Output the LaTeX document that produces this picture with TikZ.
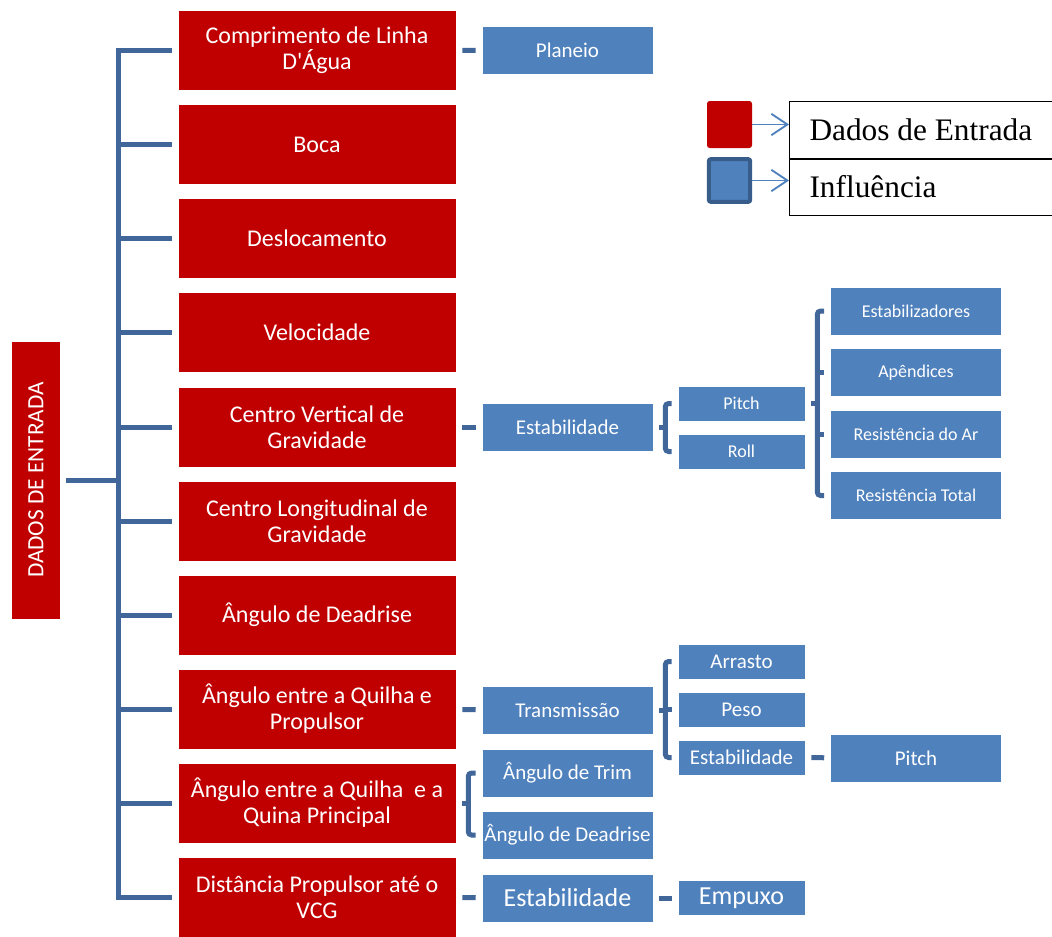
\documentclass[tikz,border=0pt]{standalone}
\usepackage{fontspec}
\setmainfont{Carlito}[Ligatures=TeXOff]
\newfontfamily\legendfont{Liberation Serif}
\usepackage{tikz}
\usetikzlibrary{arrows.meta, calc}
\definecolor{mainRed}{HTML}{C00000}
\definecolor{boxBlue}{HTML}{4F81BD}
\definecolor{lineBlue}{HTML}{41679A}
\definecolor{darkBlue}{HTML}{385D8A}
\newcommand{\DrawBracket}[3]{
    \coordinate (brk) at ($(#1.east)+(12,0)$);
    \draw[bracketline] ($(#2.west)+(-6,0)$) -| (brk) |- ($(#3.west)+(-6,0)$);
    \draw[bracketline] ($(#1.east)+(6,0)$) -- (brk);
}
\begin{document}
\begin{tikzpicture}[x=0.75pt, y=-0.75pt,
    redbox/.style={fill=mainRed, draw=white, line width=0.4pt, text=white, align=center,
        minimum width=208.5pt, minimum height=60pt, inner sep=1pt,
        font=\fontsize{18}{19.5}\selectfont},
    bluebox/.style={fill=boxBlue, draw=white, line width=0.4pt, text=white, align=center, inner sep=1pt},
    widebox/.style={bluebox, minimum width=128.25pt, minimum height=36pt},
    narrowbox/.style={bluebox, minimum width=95.25pt, minimum height=26.25pt},
    fsmall/.style={font=\fontsize{13.5}{15}\selectfont},
    fmed/.style={font=\fontsize{15.75}{18}\selectfont},
    fbig/.style={font=\fontsize{19.5}{22}\selectfont},
    trunk/.style={draw=lineBlue, line width=3.75pt},
    link/.style={trunk, shorten <=4.5pt, shorten >=4.5pt},
    bracketline/.style={trunk, rounded corners=2.5pt},
    legbox/.style={draw=black, line width=0.8pt, anchor=north west, minimum width=204pt,
        inner xsep=15pt, font=\legendfont\fontsize{23.5}{26}\selectfont},
    legarrow/.style={draw=boxBlue, line width=1.4pt, -{Straight Barb[length=12pt, width=16pt, line width=1.4pt]}}
    ]
    \clip (0,0) rectangle (1052,936);

    % Root and input boxes
    \node[fill=mainRed, minimum width=36pt, minimum height=207.75pt, inner sep=0pt, text=white,
        font=\fontsize{17.5}{19}\selectfont] (root) at (36,480) {\rotatebox{90}{DADOS DE ENTRADA}};
    \node[redbox] (r1) at (317,50) {Comprimento de Linha\\D'Água};
    \node[redbox] (r2) at (317,144.5) {Boca};
    \node[redbox] (r3) at (317,238.5) {Deslocamento};
    \node[redbox] (r4) at (317,332.5) {Velocidade};
    \node[redbox] (r5) at (317,427) {Centro Vertical de\\Gravidade};
    \node[redbox] (r6) at (317,521) {Centro Longitudinal de\\Gravidade};
    \node[redbox] (r7) at (317,615) {Ângulo de Deadrise};
    \node[redbox] (r8) at (317,709) {Ângulo entre a Quilha e\\Propulsor};
    \node[redbox] (r9) at (317,803) {Ângulo entre a Quilha~ e a\\Quina Principal};
    \node[redbox] (r10) at (317,897) {Distância Propulsor até o\\VCG};

    % Spine
    \coordinate (spine) at (118,480);
    \draw[trunk, shorten <=4.5pt, shorten >=4.5pt] (r1.west) -| (spine) |- (r10.west);
    \draw[trunk, shorten <=4.5pt] (root.east) -- (spine);
    \foreach \r in {r2,r3,r4,r5,r6,r7,r8,r9}
        \draw[trunk, shorten >=4.5pt] (spine |- \r.west) -- (\r.west);

    % Influences
    \node[widebox, fmed] (planeio) at (567.5,50.5) {Planeio};
    \node[widebox, fmed] (estab) at (567.5,427) {Estabilidade};
    \node[narrowbox, fsmall] (pitchA) at (741.5,403.5) {Pitch};
    \node[narrowbox, fsmall] (roll) at (741.5,451.5) {Roll};
    \node[widebox, fsmall] (estabz) at (916,311) {Estabilizadores};
    \node[widebox, fsmall] (apend) at (916,372.5) {Apêndices};
    \node[widebox, fsmall] (resar) at (916,434) {Resistência do Ar};
    \node[widebox, fsmall] (restot) at (916,495.5) {Resistência Total};
    \node[widebox, fmed] (transm) at (567.5,710) {Transmissão};
    \node[narrowbox, fmed] (arrasto) at (741.5,661.5) {Arrasto};
    \node[narrowbox, fmed] (peso) at (741.5,709.5) {Peso};
    \node[narrowbox, fmed] (estabB) at (741.5,757.5) {Estabilidade};
    \node[widebox, fmed] (pitchB) at (916,758) {Pitch};
    \node[widebox, fmed] (trim) at (567.5,773) {Ângulo de Trim};
    \node[widebox, fmed] (deadr) at (567.5,835) {Ângulo de Deadrise};
    \node[widebox, fbig] (estabC) at (567.5,898) {Estabilidade};
    \node[narrowbox, fbig] (empuxo) at (741.5,898) {Empuxo};

    % Dashes
    \draw[link] (r1) -- (planeio);
    \draw[link] (r5) -- (estab);
    \draw[link] (r8) -- (transm);
    \draw[link] (r10) -- (estabC);
    \draw[link] (estabC) -- (empuxo);
    \draw[link] (estabB) -- (pitchB);

    % Brackets
    \DrawBracket{estab}{pitchA}{roll}
    \DrawBracket{pitchA}{estabz}{restot}
    \draw[bracketline] (brk |- apend.west) -- ($(apend.west)+(-6,0)$);
    \draw[bracketline] (brk |- resar.west) -- ($(resar.west)+(-6,0)$);
    \DrawBracket{transm}{arrasto}{estabB}
    \draw[bracketline] (brk |- peso.west) -- ($(peso.west)+(-6,0)$);
    \DrawBracket{r9}{trim}{deadr}

    % Legend
    \node[fill=mainRed, rounded corners=2pt, minimum width=33.75pt, minimum height=35.25pt] (legred) at (729.5,124.5) {};
    \node[fill=boxBlue, draw=darkBlue, line width=3pt, rounded corners=1.5pt,
        minimum width=31pt, minimum height=32pt] (legblue) at (729.5,180.5) {};
    \node[legbox, minimum height=43pt] (legA) at (789,101) {\makebox[174pt][l]{Dados de Entrada}};
    \node[legbox, minimum height=42pt] (legB) at (789,158.5) {\makebox[174pt][l]{Influência}};
    \draw[legarrow] (legred.east) -- (legred.east -| legA.west);
    \draw[legarrow] (legblue.east) -- (legblue.east -| legB.west);
\end{tikzpicture}
\end{document}
